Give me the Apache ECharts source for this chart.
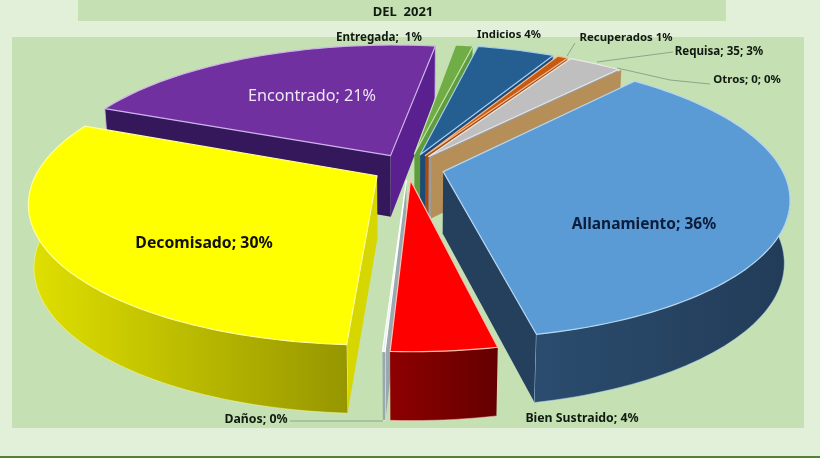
<!DOCTYPE html>
<html>
<head>
<meta charset="utf-8">
<style>html,body{margin:0;padding:0;background:#e2efd9}#c{width:820px;height:458px}</style>
<script src="https://cdn.jsdelivr.net/npm/echarts@6/dist/echarts.min.js"></script>
</head>
<body>
<div id="c"></div>
<script>
// ---- data ----
const categories = ['Allanamiento','Bien Sustraido','Daños','Decomisado','Encontrado','Entregada','Indicios','Recuperados','Requisa','Otros'];
const shares     = [35.3, 4.1, 0.1, 30.4, 21.1, 1.0, 4.4, 0.6, 3.0, 0];
const labelTexts = ['Allanamiento; 36%','Bien Sustraido; 4%','Daños; 0%','Decomisado; 30%','Encontrado; 21%','Entregada;  1%','Indicios 4%','Recuperados 1%','Requisa; 35; 3%','Otros; 0; 0%'];
const titleLine  = 'DEL  2021';

// ---- style and layout ----
const topColors  = ['#5b9bd5','#ff0000','#e8eeee','#ffff00','#7030a0','#70ad47','#255e91','#c55a11','#bfbfbf','#b58e58'];
const edgeColors = ['#b5d6f2','#ffc0b0','#ffffff','#ffff9a','#cfb2ea','#c4e3b0','#a5cdee','#f5b98c','#e8e8e8','#b58e58'];
const startWall  = ['#24405c','#7a0000','#9aa8b0','#d6d600','#35185c','#5f9c3b','#1d4a76','#a84c0e','#9c9c9c','#b58e58'];
const endWall    = ['#24405c','#7a0000','#9aa8b0','#d6d600','#5a2090','#5f9c3b','#1d4a76','#a84c0e','#9c9c9c','#b58e58'];
const rimGrad    = [['#2b4c6e','#223c58'],['#8e0000','#640000'],['#9aa8b0','#9aa8b0'],['#e0e000','#969600'],['#35185c','#35185c'],['#5f9c3b','#5f9c3b'],['#1d4a76','#1d4a76'],['#a84c0e','#a84c0e'],['#9c9c9c','#9c9c9c'],['#b58e58','#b58e58']];
const drawOrder  = [4,5,6,7,8,9,0,2,3,1];
const labelStyle = [
  {x:644,y:225,size:15.5,color:'#0c1d3c',weight:'bold'},
  {x:582,y:418,size:12.3,color:'#101a10',weight:'bold'},
  {x:256,y:419,size:12.3,color:'#101a10',weight:'bold'},
  {x:204,y:243,size:15.8,color:'#101000',weight:'bold'},
  {x:312,y:96,size:16.2,color:'#efe6f6',weight:'normal'},
  {x:379,y:38,size:11.6,color:'#101a10',weight:'bold'},
  {x:509,y:35,size:11.3,color:'#101a10',weight:'bold'},
  {x:626,y:38,size:11.4,color:'#101a10',weight:'bold'},
  {x:719,y:52,size:11.6,color:'#101a10',weight:'bold'},
  {x:747,y:80,size:11.4,color:'#101a10',weight:'bold'}
];
const leaders = [
  [[290,421],[383,421]],
  [[575,43],[567,56]],
  [[673,52],[597,62]],
  [[710,84],[670,80],[617,68]]
];

const P = {cx:408, cy:168, rx:338, ky:135, p:0.183, h:61.6, shrink:0.985, startDeg:41};
const explode = [0.107,0.09,0.09,0.107,0.107,0.107,0.107,0.107,0.107,0.107];

const total = shares.reduce((a,b)=>a+b,0);
const starts = [];
shares.reduce((acc,v,i)=>{starts[i]=acc;return acc+v/total*360;},P.startDeg);

function project(u,v,low){
  const d = 1-P.p*v;
  let x = P.rx*u/d, y = P.ky*v/d;
  if(low){ x*=P.shrink; y+=P.h/Math.sqrt(d); }
  return [P.cx+x, P.cy+y];
}
function sliceGeom(i){
  const a0=starts[i], a1=a0+shares[i]/total*360, mid=(a0+a1)/2*Math.PI/180;
  const ou=explode[i]*Math.sin(mid), ov=-explode[i]*Math.cos(mid);
  const at=(deg,low)=>{const t=deg*Math.PI/180;return project(ou+Math.sin(t),ov-Math.cos(t),low);};
  const n=Math.max(1,Math.ceil((a1-a0)/1.5));
  const rimAngles=[];
  for(let k=0;k<=n;k++) rimAngles.push(a0+(a1-a0)*k/n);
  return {a0,a1,apexT:project(ou,ov,false),apexB:project(ou,ov,true),at,rimAngles};
}
// a radial wall shows when the direction "down" points away from the slice's top face
function wallShows(apex,corner,midRim){
  const ex=corner[0]-apex[0], ey=corner[1]-apex[1];
  const down=ex*1;
  const face=ex*(midRim[1]-apex[1])-ey*(midRim[0]-apex[0]);
  return down*face<0;
}
function renderSlice(params,api){
  const i=api.value(0);
  const g=sliceGeom(i);
  const top=g.rimAngles.map(a=>g.at(a,false));
  const kids=[];
  const sA=g.at(g.a0,false), sB=g.at(g.a0,true), eA=g.at(g.a1,false), eB=g.at(g.a1,true);
  const midRim=g.at((g.a0+g.a1)/2,false);
  // radial walls first
  if(shares[i]===0 || wallShows(g.apexT,sA,midRim)){
    kids.push({type:'polygon',shape:{points:[g.apexT,sA,sB,g.apexB]},style:{fill:startWall[i]}});
    kids.push({type:'polyline',shape:{points:[sA,sB]},style:{stroke:edgeColors[i],lineWidth:0.8,fill:null}});
  }
  if(shares[i]>0 && wallShows(g.apexT,eA,midRim)){
    kids.push({type:'polygon',shape:{points:[g.apexT,eA,eB,g.apexB]},style:{fill:endWall[i]}});
    kids.push({type:'polyline',shape:{points:[eA,eB]},style:{stroke:edgeColors[i],lineWidth:0.8,fill:null}});
  }
  // outer curved wall: only the part of the rim that faces the viewer
  const frontAngles=g.rimAngles.filter(a=>-Math.cos(a*Math.PI/180)>-P.p);
  if(frontAngles.length>1){
    const ft=frontAngles.map(a=>g.at(a,false)), fb=frontAngles.map(a=>g.at(a,true));
    const fill=new echarts.graphic.LinearGradient(0,0,1,0,[{offset:0,color:rimGrad[i][0]},{offset:1,color:rimGrad[i][1]}]);
    kids.push({type:'polygon',shape:{points:ft.concat(fb.slice().reverse())},style:{fill:fill}});
    kids.push({type:'polyline',shape:{points:fb},style:{stroke:edgeColors[i],lineWidth:0.7,fill:null,opacity:0.7}});
  }
  // top face
  if(shares[i]>0){
    kids.push({type:'polygon',shape:{points:[g.apexT].concat(top)},style:{fill:topColors[i],stroke:edgeColors[i],lineWidth:1.2,lineJoin:'round'}});
  }
  return {type:'group',children:kids};
}

const textEls = categories.map((c,i)=>({
  type:'text',z:20,
  style:{text:labelTexts[i],x:labelStyle[i].x,y:labelStyle[i].y,align:'center',verticalAlign:'middle',
    fill:labelStyle[i].color,font:labelStyle[i].weight+' '+labelStyle[i].size+'px "Noto Sans"'}
}));
const lineEls = leaders.map(pts=>({type:'polyline',z:15,shape:{points:pts},style:{stroke:'#8ea58c',lineWidth:1,fill:null}}));

const chart = echarts.init(document.getElementById('c'),null,{renderer:'canvas',width:820,height:458});
chart.setOption({
  animation:false,
  backgroundColor:'#e2efd9',
  graphic:{elements:[
    {type:'rect',z:-10,silent:true,shape:{x:78,y:0,width:648,height:21},style:{fill:'#c5e0b3'}},
    {type:'rect',z:-10,silent:true,shape:{x:12,y:37,width:792,height:391},style:{fill:'#c5e0b3'}},
    {type:'rect',z:-10,silent:true,shape:{x:0,y:456,width:820,height:2},style:{fill:'#538135'}},
    {type:'text',z:20,style:{text:titleLine,x:403,y:12,align:'center',verticalAlign:'middle',fill:'#101a10',font:'bold 13px "Noto Sans"'}}
  ].concat(lineEls,textEls)},
  series:[{
    type:'custom',
    coordinateSystem:'none',
    z:5,
    clip:false,
    renderItem:renderSlice,
    encode:{},
    data:drawOrder.map(i=>[i,shares[i]])
  }]
});
</script>
</body>
</html>
